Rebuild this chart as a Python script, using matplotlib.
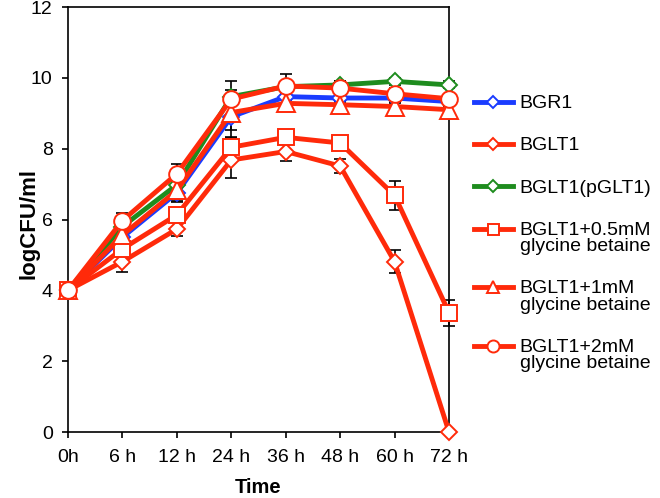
import numpy as np
import matplotlib.pyplot as plt

plt.rcParams['font.family'] = ['Liberation Sans', 'DejaVu Sans']

# Valores
tiempos = ['0h', '6 h', '12 h', '24 h', '36 h', '48 h', '60 h', '72 h']
bgr1 = [4.0, 5.50, 6.75, 8.90, 9.47, 9.43, 9.43, 9.33]
bglt1 = [4.0, 4.81, 5.73, 7.68, 7.92, 7.51, 4.81, 0.0]
pglt1 = [4.0, 5.80, 6.98, 9.47, 9.75, 9.80, 9.90, 9.80]
gb05 = [4.0, 5.17, 6.13, 8.04, 8.32, 8.16, 6.68, 3.37]
gb1 = [4.0, 5.56, 6.82, 9.02, 9.28, 9.24, 9.19, 9.10]
gb2 = [4.0, 5.97, 7.29, 9.40, 9.77, 9.71, 9.55, 9.41]

bgr1_err = [0, 0.10, 0.25, 0.60, 0.10, 0.10, 0.10, 0.10]
bglt1_err = [0, 0.28, 0.20, 0.50, 0.28, 0.20, 0.32, 0]
pglt1_err = [0, 0.10, 0.10, 0.20, 0.10, 0.10, 0.10, 0.10]
gb05_err = [0, 0.20, 0.20, 0.30, 0.20, 0.20, 0.40, 0.37]
gb1_err = [0, 0.20, 0.30, 0.50, 0.20, 0.10, 0.10, 0.10]
gb2_err = [0, 0.20, 0.28, 0.50, 0.35, 0.20, 0.15, 0.10]

rojo = '#FF2A0A'
series = [
    ('BGR1', bgr1, bgr1_err, '#1A3CFF', 'D', 8.5),
    ('BGLT1', bglt1, bglt1_err, rojo, 'D', 8.5),
    ('BGLT1(pGLT1)', pglt1, pglt1_err, '#1E8C1E', 'D', 8.5),
    ('BGLT1+0.5mM\nglycine betaine', gb05, gb05_err, rojo, 's', 11),
    ('BGLT1+1mM\nglycine betaine', gb1, gb1_err, rojo, '^', 12.5),
    ('BGLT1+2mM\nglycine betaine', gb2, gb2_err, rojo, 'o', 12),
]

x = np.arange(len(tiempos))
fig = plt.figure(figsize=(6.6, 4.98), dpi=100)
ax = fig.add_axes([68 / 660, 1 - 432 / 498, (449 - 68) / 660, (432 - 7) / 498])

# barras de error debajo de las líneas
for label, y, err, c, m, ms in series:
    ax.errorbar(x, y, yerr=err, fmt='none', ecolor='black', elinewidth=1.2,
                capsize=4, capthick=1.2, zorder=1, clip_on=False)

for i, (label, y, err, c, m, ms) in enumerate(series):
    ax.plot(x, y, color=c, lw=3.5, marker=m, markersize=ms,
            markerfacecolor='white', markeredgecolor=c, markeredgewidth=1.4,
            label=label, zorder=2 + i, clip_on=False)

ax.set_xlim(0, 7)
ax.set_ylim(0, 12)
ax.set_xticks(x)
ax.set_xticklabels(tiempos)
ax.set_yticks(np.arange(0, 13, 2))
ax.tick_params(axis='both', direction='out', length=4, width=1.2, labelsize=14)
ax.tick_params(axis='x', pad=8)
ax.tick_params(axis='y', pad=7)
for s in ax.spines.values():
    s.set_linewidth(1.2)
ax.set_xlabel('Time', fontsize=14.5, fontweight='bold', labelpad=9)
ax.set_ylabel('logCFU/ml', fontsize=16, fontweight='bold')
ax.yaxis.set_label_coords(-0.075, 0.49)

leg = ax.legend(loc='upper left', bbox_to_anchor=(474 / 660, 1 - 95 / 498),
                bbox_transform=fig.transFigure, frameon=False, fontsize=14,
                handlelength=2.0, handletextpad=0.35, labelspacing=1.3,
                borderpad=0, borderaxespad=0, markerscale=0.72)
for t in leg.get_texts():
    t.set_linespacing(0.95)
# el símbolo alineado con la primera línea del texto
for col in leg._legend_handle_box.get_children():
    for fila in col.get_children():
        fila.align = 'top'

fig.savefig('out.png', dpi=100)
